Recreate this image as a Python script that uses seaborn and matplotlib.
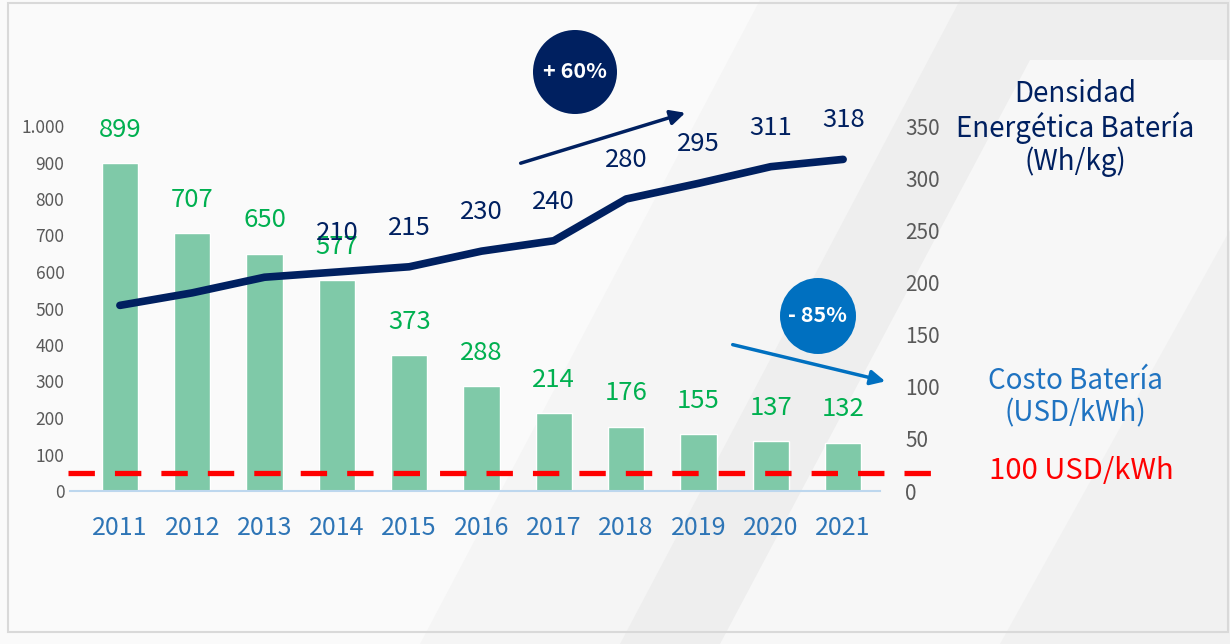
import numpy as np
import pandas as pd
import matplotlib
matplotlib.use('Agg')
import matplotlib.pyplot as plt
import matplotlib.ticker as mticker
from matplotlib.patches import Circle, FancyArrowPatch, Polygon, Rectangle
import seaborn as sns

# Data
years = ['2011', '2012', '2013', '2014', '2015', '2016', '2017', '2018', '2019', '2020', '2021']
battery_cost = [899, 707, 650, 577, 373, 288, 214, 176, 155, 137, 132]          # USD/kWh
energy_density = [178, 190, 205, 210, 215, 230, 240, 280, 295, 311, 318]         # Wh/kg
density_labels = ['', '', '', '210', '215', '230', '240', '280', '295', '311', '318']
target_level = 50  # red dashed reference, drawn on the cost axis

cost_ticks = [0, 100, 200, 300, 400, 500, 600, 700, 800, 900, 1000]
density_ticks = [0, 50, 100, 150, 200, 250, 300, 350]

df = pd.DataFrame({'year': years, 'cost': battery_cost, 'density': energy_density})

bar_color = '#7FC9A8'
green = '#00B050'
navy = '#002060'
blue = '#1F73C1'
gray_txt = '#595959'

sns.set_theme(style='white')
plt.rcParams['font.family'] = ['Noto Sans CJK JP', 'DejaVu Sans']

fig = plt.figure(figsize=(12.3, 6.44), dpi=100)
fig.patch.set_facecolor('#F5F5F5')

# soft diagonal background shapes (figure pixels, y from top)
def px(pts):
    return [(x / 1230, 1 - y / 644) for x, y in pts]

for pts, col in [
    ([(0, 0), (760, 0), (420, 644), (0, 644)], '#FAFAFA'),
    ([(620, 644), (960, 0), (1230, 0), (1230, 644)], '#EEEEEE'),
    ([(720, 644), (1030, 60), (1230, 60), (1230, 644)], '#F7F7F7'),
    ([(1000, 644), (1230, 230), (1230, 644)], '#F1F1F1'),
]:
    fig.patches.append(Polygon(px(pts), closed=True, transform=fig.transFigure,
                               facecolor=col, edgecolor='none', zorder=-10))
fig.patches.append(Rectangle((8 / 1230, 1 - 632 / 644), 1220 / 1230, 629 / 644,
                             transform=fig.transFigure, facecolor='none',
                             edgecolor='#D9D9D9', lw=1.5, zorder=-5))

ax = fig.add_axes([70 / 1230, 1 - 491 / 644, 810 / 1230, 365 / 644])
ax.set_facecolor('none')

sns.barplot(data=df, x='year', y='cost', color=bar_color, width=0.5,
            saturation=1, ax=ax, zorder=2)
ax.set_xlim(-0.69, 10.51)
ax.set_ylim(0, 1000)
ax.set_yticks(cost_ticks)
ax.yaxis.set_major_formatter(mticker.FuncFormatter(lambda v, p: f'{v:,.0f}'.replace(',', '.')))
ax.tick_params(axis='y', labelsize=12.5, labelcolor=gray_txt, length=0, pad=4)
ax.tick_params(axis='x', labelsize=18, labelcolor='#2E75B6', length=0, pad=17)
ax.set_xlabel('')
ax.set_ylabel('')
for s in ['top', 'left', 'right']:
    ax.spines[s].set_visible(False)
ax.spines['bottom'].set_color('#BDD7EE')
ax.spines['bottom'].set_linewidth(1.5)

for i, v in enumerate(battery_cost):
    ax.annotate(str(v), (i, v), xytext=(0, 24), textcoords='offset points',
                ha='center', va='center', fontsize=18.5, color=green, zorder=5)

ax.axhline(target_level, xmin=-0.003, xmax=1.068, color='#FF0000', lw=3.8,
           ls=(0, (5, 3.8)), clip_on=False, zorder=4)

ax2 = ax.twinx()
ax2.set_facecolor('none')
sns.lineplot(data=df, x='year', y='density', color=navy, lw=5.5, sort=False,
             ax=ax2, zorder=3)
ax2.set_xlim(-0.69, 10.51)
ax2.set_ylim(0, 350)
ax2.set_yticks(density_ticks)
ax2.tick_params(axis='y', labelsize=15, labelcolor=gray_txt, length=0, pad=18)
ax2.set_ylabel('')
ax2.set_xlabel('')
for s in ax2.spines.values():
    s.set_visible(False)
for i, (v, lab) in enumerate(zip(energy_density, density_labels)):
    if lab:
        ax2.annotate(lab, (i, v), xytext=(0, 28), textcoords='offset points',
                     ha='center', va='center', fontsize=18.5, color=navy, zorder=6)

# series titles on the right
fig.text(1075 / 1230, 1 - 128 / 644, 'Densidad\nEnergética Batería\n(Wh/kg)',
         ha='center', va='center', fontsize=20, color=navy, linespacing=1.12)
fig.text(1075 / 1230, 1 - 397 / 644, 'Costo Batería\n(USD/kWh)',
         ha='center', va='center', fontsize=20, color=blue, linespacing=1.12)
fig.text(1081 / 1230, 1 - 471 / 644, '100 USD/kWh',
         ha='center', va='center', fontsize=21, color='#FF0000')

# badges and trend arrows (positions in inches)
tr = fig.dpi_scale_trans
fig.patches.append(Circle((5.75, 6.44 - 0.72), 0.42, transform=tr, facecolor=navy,
                          edgecolor='none', zorder=10))
fig.text(5.75 / 12.3, (6.44 - 0.72) / 6.44, '+ 60%', ha='center', va='center',
         fontsize=15.5, color='white', fontweight='bold', zorder=11)
fig.patches.append(Circle((8.18, 6.44 - 3.16), 0.38, transform=tr, facecolor='#0070C0',
                          edgecolor='none', zorder=10))
fig.text(8.18 / 12.3, (6.44 - 3.16) / 6.44, '- 85%', ha='center', va='center',
         fontsize=15.5, color='white', fontweight='bold', zorder=11)

fig.patches.append(FancyArrowPatch((5.18, 6.44 - 1.64), (6.88, 6.44 - 1.12), transform=tr,
                                   arrowstyle='-|>', mutation_scale=22, lw=2.5,
                                   color=navy, zorder=10))
fig.patches.append(FancyArrowPatch((7.30, 6.44 - 3.44), (8.88, 6.44 - 3.82), transform=tr,
                                   arrowstyle='-|>', mutation_scale=22, lw=2.5,
                                   color='#0070C0', zorder=10))

plt.savefig('out.png', dpi=100, facecolor=fig.get_facecolor())
